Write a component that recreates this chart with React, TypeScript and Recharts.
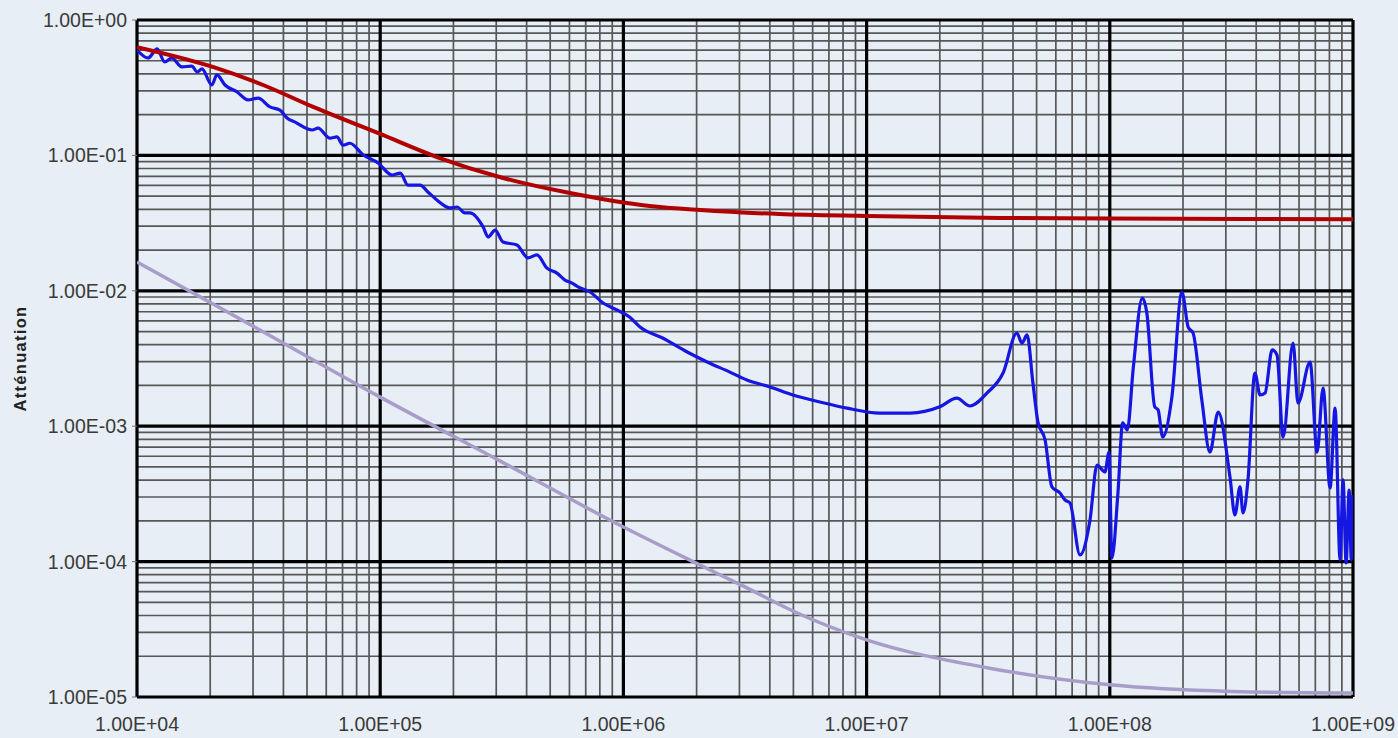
import React from 'react';
import {
  LineChart,
  Line,
  XAxis,
  YAxis,
  ReferenceLine,
  Label,
} from 'recharts';

// frequencies (Hz) and attenuation
const measuredFreq = [
  1.0e4, 1.11e4, 1.21e4, 1.3e4, 1.39e4, 1.53e4, 1.68e4, 1.77e4, 1.85e4, 2.03e4,
  2.13e4, 2.3e4, 2.58e4, 2.86e4, 3.15e4, 3.52e4, 3.87e4, 4.14e4, 4.47e4, 5.25e4,
  5.55e4, 6.22e4, 6.64e4, 7.03e4, 7.51e4, 8.5e4, 9.8e4, 1.12e5, 1.21e5, 1.3e5,
  1.46e5, 1.57e5, 1.71e5, 1.94e5, 2.07e5, 2.23e5, 2.34e5, 2.65e5, 2.78e5, 2.97e5,
  3.2e5, 3.65e5, 4.05e5, 4.41e5, 4.85e5, 5.33e5, 5.75e5, 6.15e5, 6.51e5, 7.29e5,
  8.25e5, 9.41e5, 1.06e6, 1.17e6, 1.45e6, 1.83e6, 2.21e6, 2.74e6, 3.22e6, 4.01e6,
  4.98e6, 6.43e6, 8.3e6, 1.13e7, 1.51e7, 2.0e7, 2.35e7, 2.66e7, 3.13e7, 3.64e7,
  4.15e7, 4.35e7, 4.57e7, 4.83e7, 5.07e7, 5.42e7, 5.78e7, 6.24e7, 6.55e7, 6.86e7,
  7.54e7, 8.29e7, 8.86e7, 9.55e7, 9.93e7, 1.02e8, 1.08e8, 1.13e8, 1.18e8, 1.25e8,
  1.36e8, 1.42e8, 1.53e8, 1.58e8, 1.65e8, 1.8e8, 1.98e8, 2.1e8, 2.2e8, 2.39e8,
  2.58e8, 2.79e8, 3.12e8, 3.27e8, 3.43e8, 3.53e8, 3.7e8, 3.95e8, 4.15e8, 4.35e8,
  4.65e8, 4.87e8, 5.16e8, 5.67e8, 5.94e8, 6.66e8, 7.12e8, 7.53e8, 8.05e8, 8.44e8,
  8.85e8, 9.1e8, 9.37e8, 9.64e8, 9.84e8, 1.0e9,
];
const measuredAtt = [
  0.6, 0.524, 0.611, 0.49, 0.524, 0.45, 0.457, 0.413, 0.435, 0.331,
  0.393, 0.331, 0.294, 0.257, 0.265, 0.228, 0.216, 0.189, 0.176, 0.154,
  0.159, 0.134, 0.137, 0.119, 0.123, 0.101, 0.0879, 0.0716, 0.0741, 0.0604,
  0.0604, 0.0537, 0.0469, 0.0409, 0.0416, 0.0376, 0.0376, 0.0296, 0.025, 0.0281,
  0.0229, 0.0218, 0.0175, 0.0184, 0.0147, 0.0135, 0.012, 0.0114, 0.0107, 0.0098,
  0.00813, 0.00722, 0.0064, 0.0054, 0.00448, 0.00353, 0.00298, 0.00251, 0.00219, 0.00195,
  0.0017, 0.00151, 0.00136, 0.00125, 0.00125, 0.00139, 0.00161, 0.00141, 0.00176, 0.00247,
  0.00488, 0.00411, 0.00472, 0.00208, 0.00106, 0.000791, 0.000356, 0.000321, 0.000285, 0.000271,
  0.000112, 0.000203, 0.000516, 0.000459, 0.000644, 0.000106, 0.000321, 0.00106, 0.000938, 0.00274,
  0.00885, 0.00686, 0.00139, 0.00132, 0.000832, 0.00164, 0.0098, 0.0054, 0.00488, 0.00156,
  0.000644, 0.00127, 0.000421, 0.000221, 0.000356, 0.000229, 0.000401, 0.00247, 0.0017, 0.00176,
  0.00366, 0.00336, 0.000832, 0.00411, 0.00148, 0.00298, 0.000644, 0.00191, 0.00035, 0.00136,
  0.000103, 0.000401, 0.0000977, 0.000338, 0.000103, 0.00031,
];

const upperFreq = [1e4, 2.05e4, 3.3e4, 5.3e4, 1e5, 1.71e5, 3.2e5, 6.03e5, 1.28e6, 2.07e6, 4.37e6, 1e7, 3.55e7, 1e8, 1e9];
const upperAtt = [0.63, 0.45, 0.331, 0.228, 0.144, 0.0973, 0.0681, 0.0527, 0.0423, 0.0395, 0.0369, 0.0357, 0.0345, 0.0342, 0.0338];

const lowerFreq = [1e4, 3.16e4, 1e5, 3.16e5, 1e6, 2e6, 3.16e6, 5e6, 1e7, 3.16e7, 1e8, 3.16e8, 1e9];
const lowerAtt = [0.0163, 0.0052, 0.00164, 0.000545, 0.00018, 0.000097, 0.000065, 0.000043, 0.0000264, 0.0000164, 0.0000123, 0.000011, 0.0000107];

const xTicks = [1e4, 1e5, 1e6, 1e7, 1e8, 1e9];
const xTickLabels = ['1.00E+04', '1.00E+05', '1.00E+06', '1.00E+07', '1.00E+08', '1.00E+09'];
const yTicks = [1e-5, 1e-4, 1e-3, 1e-2, 1e-1, 1];
const yTickLabels = ['1.00E-05', '1.00E-04', '1.00E-03', '1.00E-02', '1.00E-01', '1.00E+00'];

const toRows = (xs: number[], ys: number[]) => xs.map((f, i) => ({ f, a: ys[i] }));

const measured = toRows(measuredFreq, measuredAtt);
const upper = toRows(upperFreq, upperAtt);
const lower = toRows(lowerFreq, lowerAtt);

// 2..9 within each decade
const minorsOf = (majors: number[]) => {
  const out: number[] = [];
  majors.slice(0, -1).forEach((d) => {
    for (let k = 2; k <= 9; k++) out.push(k * d);
  });
  return out;
};
const xMinor = minorsOf(xTicks);
const yMinor = minorsOf(yTicks);

const BG = '#e7eef5';
const tickStyle = { fontSize: 19.5, fill: '#3a3a3a', fontFamily: 'Liberation Sans, Arial, sans-serif' };

document.body.style.margin = '0';
document.body.style.background = BG;

const App: React.FC = () => {
  return (
    <div style={{ width: 1398, height: 738, background: BG }}>
      <LineChart
        width={1398}
        height={738}
        margin={{ top: 20, right: 45, left: 17, bottom: 11 }}
      >
        <XAxis
          dataKey="f"
          type="number"
          scale="log"
          domain={[1e4, 1e9]}
          allowDataOverflow
          ticks={xTicks}
          tickFormatter={(v: number) => xTickLabels[xTicks.indexOf(v)] ?? ''}
          axisLine={false}
          tickLine={false}
          tickMargin={14}
          height={30}
          tick={tickStyle}
          interval={0}
        />
        <YAxis
          dataKey="a"
          type="number"
          scale="log"
          domain={[1e-5, 1]}
          allowDataOverflow
          ticks={yTicks}
          tickFormatter={(v: number) => yTickLabels[yTicks.indexOf(v)] ?? ''}
          axisLine={false}
          tickLine={{ stroke: '#777', strokeWidth: 1 }}
          tickSize={5}
          tickMargin={5}
          width={120}
          tick={tickStyle}
          interval={0}
        >
          <Label
            value="Atténuation"
            angle={-90}
            position="insideLeft"
            offset={3}
            style={{
              textAnchor: 'middle',
              fontSize: 16.5,
              fontWeight: 'bold',
              letterSpacing: 1.3,
              fill: '#222',
              fontFamily: 'Liberation Sans, Arial, sans-serif',
            }}
          />
        </YAxis>

        {xMinor.map((v) => (
          <ReferenceLine key={'xm' + v} x={v} stroke="#575757" strokeWidth={1.7} />
        ))}
        {yMinor.map((v) => (
          <ReferenceLine key={'ym' + v} y={v} stroke="#575757" strokeWidth={1.7} />
        ))}
        {xTicks.map((v) => (
          <ReferenceLine key={'xM' + v} x={v} stroke="#000" strokeWidth={3.2} />
        ))}
        {yTicks.map((v) => (
          <ReferenceLine key={'yM' + v} y={v} stroke="#000" strokeWidth={3.2} />
        ))}

        <Line
          data={lower}
          dataKey="a"
          type="monotone"
          stroke="#a89dc9"
          strokeWidth={3.5}
          dot={false}
          isAnimationActive={false}
        />
        <Line
          data={measured}
          dataKey="a"
          type="monotone"
          stroke="#1616e2"
          strokeWidth={3.2}
          strokeLinejoin="round"
          dot={false}
          isAnimationActive={false}
        />
        <Line
          data={upper}
          dataKey="a"
          type="monotone"
          stroke="#b20000"
          strokeWidth={4}
          dot={false}
          isAnimationActive={false}
        />
      </LineChart>
    </div>
  );
};

export default App;
